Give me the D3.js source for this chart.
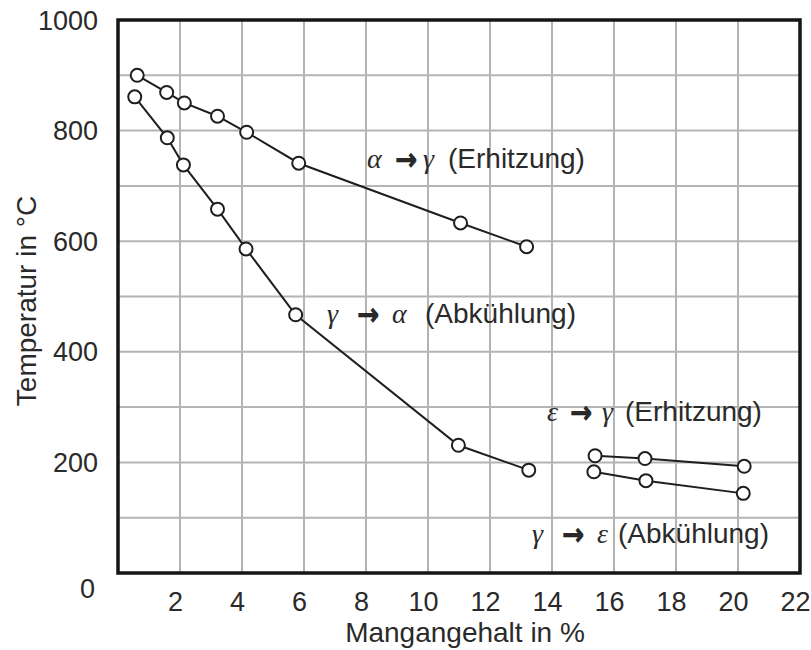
<!DOCTYPE html>
<html>
<head>
<meta charset="utf-8">
<script src="https://cdn.jsdelivr.net/npm/d3@7/dist/d3.min.js"></script>
<style>
  html, body { margin: 0; padding: 0; background: #fff; }
  svg { display: block; }
  text { font-family: "Liberation Sans", Arial, Helvetica, sans-serif; fill: #2a2a2a; }
</style>
</head>
<body>
<svg id="chart" width="811" height="650"></svg>
<script>
// Mn content (%) and transformation temperatures (°C)
const alphaGammaMn   = [0.62, 1.57, 2.14, 3.21, 4.15, 5.83, 11.05, 13.18];
const alphaGammaTemp = [900, 869, 850, 826, 797, 741, 633, 590];

const gammaAlphaMn   = [0.54, 1.59, 2.11, 3.21, 4.13, 5.73, 10.98, 13.25];
const gammaAlphaTemp = [861, 787, 738, 658, 586, 467, 231, 186];

const epsGammaMn   = [15.39, 17.0, 20.2];
const epsGammaTemp = [212, 207, 193];

const gammaEpsMn   = [15.35, 17.03, 20.17];
const gammaEpsTemp = [183, 167, 144];

const xTickValues = [2, 4, 6, 8, 10, 12, 14, 16, 18, 20, 22];
const yTickValues = [0, 200, 400, 600, 800, 1000];
const xGridValues = [2, 4, 6, 8, 10, 12, 14, 16, 18, 20];
const yGridValues = [100, 200, 300, 400, 500, 600, 700, 800, 900];

const series = [
  { mn: alphaGammaMn, temp: alphaGammaTemp },
  { mn: gammaAlphaMn, temp: gammaAlphaTemp },
  { mn: epsGammaMn,   temp: epsGammaTemp },
  { mn: gammaEpsMn,   temp: gammaEpsTemp }
];

const plot = { left: 118, right: 800, top: 20, bottom: 573 };
const x = d3.scaleLinear().domain([0, 22]).range([plot.left, plot.right]);
const y = d3.scaleLinear().domain([0, 1000]).range([plot.bottom, plot.top]);

const svg = d3.select("#chart");

// grid
const grid = svg.append("g").attr("stroke", "#b4b4b4").attr("stroke-width", 2);
grid.selectAll("line.v").data(xGridValues).join("line")
  .attr("x1", d => x(d)).attr("x2", d => x(d))
  .attr("y1", plot.top).attr("y2", plot.bottom);
grid.selectAll("line.h").data(yGridValues).join("line")
  .attr("x1", plot.left).attr("x2", plot.right)
  .attr("y1", d => y(d)).attr("y2", d => y(d));

// curves
const line = d3.line().x(d => x(d[0])).y(d => y(d[1]));
series.forEach(s => {
  const pts = s.mn.map((m, i) => [m, s.temp[i]]);
  svg.append("path").datum(pts)
    .attr("d", line).attr("fill", "none")
    .attr("stroke", "#1e1e1e").attr("stroke-width", 2);
  svg.append("g").selectAll("circle").data(pts).join("circle")
    .attr("cx", d => x(d[0])).attr("cy", d => y(d[1])).attr("r", 6.5)
    .attr("fill", "#fff").attr("stroke", "#1e1e1e").attr("stroke-width", 2);
});

// frame
svg.append("rect")
  .attr("x", plot.left).attr("y", plot.top)
  .attr("width", plot.right - plot.left).attr("height", plot.bottom - plot.top)
  .attr("fill", "none").attr("stroke", "#151515").attr("stroke-width", 3.5);

// axis tick labels
const xAxis = d3.axisBottom(x).tickValues(xTickValues).tickFormat(d3.format("d"))
  .tickSize(0).tickPadding(0);
const gx = svg.append("g").attr("transform", `translate(-5,${plot.bottom + 29})`).call(xAxis);
gx.select(".domain").remove();
gx.selectAll("text").attr("font-size", 27).attr("dy", 0).attr("fill", "#2a2a2a")
  .style("font-family", "Liberation Sans, Arial, sans-serif")
  .attr("dominant-baseline", "central");

const yAxis = d3.axisLeft(y).tickValues(yTickValues).tickFormat(d3.format("d"))
  .tickSize(0).tickPadding(0);
const gy = svg.append("g").attr("transform", `translate(98,0)`).call(yAxis);
gy.select(".domain").remove();
gy.selectAll("text").attr("font-size", 27).attr("dy", 0).attr("fill", "#2a2a2a")
  .style("font-family", "Liberation Sans, Arial, sans-serif")
  .attr("dominant-baseline", "central")
  .attr("transform", d => d === 0 ? "translate(-3,15)" : null);

// axis titles
svg.append("text")
  .attr("x", 465).attr("y", 642)
  .attr("text-anchor", "middle").attr("font-size", 28)
  .text("Mangangehalt in %");
svg.append("text")
  .attr("transform", "translate(36,301) rotate(-90)")
  .attr("text-anchor", "middle").attr("font-size", 28)
  .text("Temperatur in °C");

// transformation labels
const labels = [
  { a: "α", b: "γ", note: "(Erhitzung)",  ax: 367, arx: 395, bx: 423, nx: 448, base: 168 },
  { a: "γ", b: "α", note: "(Abkühlung)",  ax: 327, arx: 357, bx: 392, nx: 425, base: 323 },
  { a: "ε", b: "γ", note: "(Erhitzung)",  ax: 547, arx: 570, bx: 602, nx: 625, base: 421 },
  { a: "γ", b: "ε", note: "(Abkühlung)",  ax: 532, arx: 562, bx: 597, nx: 618, base: 543 }
];
const serif = "Liberation Serif, 'Times New Roman', serif";
labels.forEach(l => {
  const g = svg.append("g");
  g.append("text").attr("x", l.ax).attr("y", l.base)
    .attr("font-size", 28).attr("font-style", "italic").style("font-family", serif)
    .attr("fill", "#444")
    .text(l.a);
  g.append("text")
    .attr("transform", `translate(${l.arx},${l.base + 2}) scale(0.85,1)`)
    .attr("font-size", 31).attr("font-weight", "bold")
    .style("font-family", "DejaVu Sans, sans-serif")
    .attr("fill", "#111").attr("stroke", "#111").attr("stroke-width", 0.6)
    .text("→");
  g.append("text").attr("x", l.bx).attr("y", l.base)
    .attr("font-size", 28).attr("font-style", "italic").style("font-family", serif)
    .attr("fill", "#444")
    .text(l.b);
  g.append("text").attr("x", l.nx).attr("y", l.base)
    .attr("font-size", 28)
    .text(l.note);
});
</script>
</body>
</html>
